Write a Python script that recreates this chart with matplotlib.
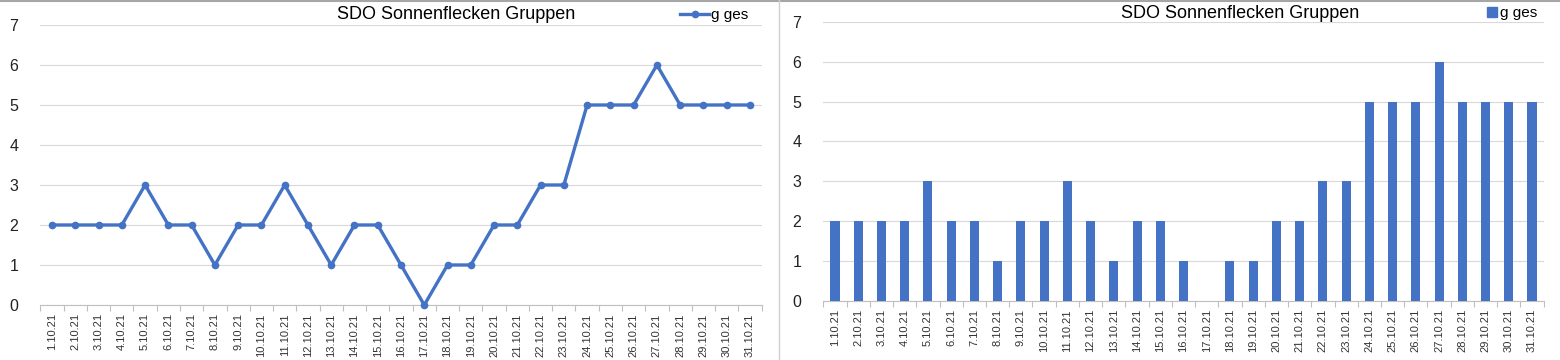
import matplotlib
matplotlib.use("Agg")
import matplotlib.pyplot as plt
from matplotlib.lines import Line2D
from matplotlib import font_manager
import numpy as np

plt.rcParams['font.family'] = ['Liberation Sans', 'DejaVu Sans']

# Tage im Oktober 2021
days = [f"{d}.10.21" for d in range(1, 32)]
# Anzahl Sonnenfleckengruppen (g ges)
g_ges = [2, 2, 2, 2, 3, 2, 2, 1, 2, 2, 3, 2, 1, 2, 2, 1, 0, 1, 1, 2, 2,
         3, 3, 5, 5, 5, 6, 5, 5, 5, 5]
yticks = [0, 1, 2, 3, 4, 5, 6, 7]
title = "SDO Sonnenflecken Gruppen"
series_name = "g ges"

BLUE = "#4472C4"
GRID = "#D9D9D9"

# schmale Schrift für die Datumsbeschriftung, falls vorhanden
names = {f.name for f in font_manager.fontManager.ttflist}
NARROW = "Liberation Sans Narrow" if "Liberation Sans Narrow" in names else "Liberation Sans"


def style_axes(ax):
    x = np.arange(len(days))
    ax.set_xlim(-0.5, len(days) - 0.5)
    ax.set_ylim(0, 7)
    ax.set_yticks(yticks)
    ax.set_yticklabels([str(t) for t in yticks], fontsize=11.5, color="#222222")
    ax.set_xticks(x)
    ax.set_xticklabels(days, rotation=90, fontsize=8, color="#333333", family=NARROW)
    ax.set_xticks(np.arange(len(days) + 1) - 0.5, minor=True)
    ax.tick_params(axis="x", which="major", length=0, pad=6)
    ax.tick_params(axis="x", which="minor", length=4, color="#BFBFBF", width=0.8)
    ax.tick_params(axis="y", length=0, pad=16)
    ax.grid(axis="y", color=GRID, lw=0.8)
    ax.set_axisbelow(True)
    for s in ["top", "right", "left"]:
        ax.spines[s].set_visible(False)
    ax.spines["bottom"].set_color("#BFBFBF")
    ax.spines["bottom"].set_linewidth(0.8)


fig = plt.figure(figsize=(15.6, 3.6), dpi=100)

# linkes Diagramm: Linie
ax1 = fig.add_axes([40.4 / 1560, 1 - 305 / 360, 721.2 / 1560, 280 / 360])
ax1.plot(np.arange(len(days)), g_ges, color=BLUE, lw=2.4, marker="o", ms=4.5,
         clip_on=False, zorder=3)
style_axes(ax1)
fig.text(456.5 / 1560, 1 - 14.5 / 360, title, ha="center", va="center", fontsize=13)
h1 = Line2D([], [], color=BLUE, lw=2.4, marker="o", ms=4.5)
fig.legend([h1], [series_name], loc="center left", bbox_to_anchor=(680 / 1560, 1 - 15 / 360),
           frameon=False, fontsize=11, handlelength=1.9, handletextpad=0.1,
           borderpad=0, borderaxespad=0)

# rechtes Diagramm: Säulen
ax2 = fig.add_axes([823.4 / 1560, 1 - 300.7 / 360, 720.2 / 1560, 278.7 / 360])
ax2.bar(np.arange(len(days)), g_ges, width=0.39, color=BLUE, zorder=3)
style_axes(ax2)
fig.text(1240 / 1560, 1 - 13.5 / 360, title, ha="center", va="center", fontsize=13)
h2 = Line2D([], [], color=BLUE, lw=0, marker="s", ms=7)
fig.legend([h2], [series_name], loc="center left", bbox_to_anchor=(1486 / 1560, 1 - 13 / 360),
           frameon=False, fontsize=11, handlelength=0.8, handletextpad=0.1,
           borderpad=0, borderaxespad=0)

# Rahmen der Tabellenansicht
fig.add_artist(Line2D([0, 1], [1 - 1 / 360, 1 - 1 / 360], transform=fig.transFigure,
                      color="#A6A6A6", lw=1.5))
fig.add_artist(Line2D([779 / 1560, 779 / 1560], [0, 1], transform=fig.transFigure,
                      color="#D0D0D0", lw=1.0))

fig.savefig("out.png", dpi=100, facecolor="white")
